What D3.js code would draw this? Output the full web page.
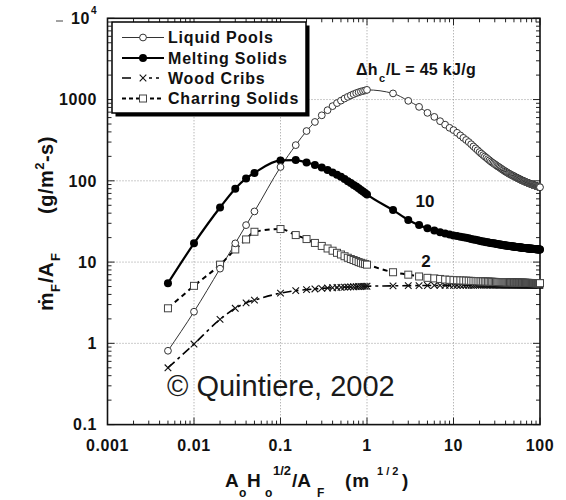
<!DOCTYPE html>
<html>
<head>
<meta charset="utf-8">
<script src="https://cdn.jsdelivr.net/npm/d3@7"></script>
<style>
  html, body { margin: 0; padding: 0; background: #fff; }
  svg { display: block; font-family: "Liberation Sans", Arial, Helvetica, sans-serif; }
</style>
</head>
<body>
<svg id="chart" width="566" height="500"></svg>
<script>
// ---------------- DATA ----------------
const xValues = [
  0.005, 0.01, 0.02, 0.03, 0.04, 0.05,
  0.1, 0.15, 0.2, 0.25, 0.3, 0.35, 0.4, 0.45, 0.5, 0.55, 0.6, 0.65, 0.7, 0.75, 0.8, 0.85, 0.9, 0.95, 1,
  2, 3, 4, 5, 6, 7, 8, 9, 10,
  11, 12, 13, 14, 15, 16, 17, 18, 19, 20,
  21, 22, 23, 24, 25, 26, 27, 28, 29, 30,
  31, 32, 33, 34, 35, 36, 37, 38, 39, 40,
  41, 42, 43, 44, 45, 46, 47, 48, 49, 50,
  51, 52, 53, 54, 55, 56, 57, 58, 59, 60,
  61, 62, 63, 64, 65, 66, 67, 68, 69, 70,
  71, 72, 73, 74, 75, 76, 77, 78, 79, 80,
  81, 82, 83, 84, 85, 86, 87, 88, 89, 90,
  91, 92, 93, 94, 95, 96, 97, 98, 99, 100
];

const liquidPools = [
  0.81, 2.45, 8.3, 17, 28.5, 42,
  148, 275, 410, 530, 640, 740, 830, 905, 970, 1030, 1080, 1125, 1165, 1200, 1230, 1255, 1275, 1295, 1315,
  1190, 964, 813, 686, 612, 542, 491, 449, 421,
  390, 362, 338, 318, 300, 282, 265, 251, 238, 226,
  216, 207, 199, 192, 185, 179, 173, 168, 164, 160,
  156, 152, 149, 146, 143, 140, 137, 135, 132, 130,
  128, 126, 124, 122, 121, 119, 118, 116, 115, 114,
  113, 111, 110, 109, 108, 107, 106, 105, 104, 103,
  102, 101, 100.5, 100, 99, 98.5, 97.5, 97, 96, 95.5,
  95, 94.5, 94, 93.5, 93, 92.5, 92, 91.5, 91, 90.5,
  90, 89.6, 89.2, 88.8, 88.4, 88, 87.6, 87.2, 86.8, 86.4,
  86, 85.7, 85.4, 85.1, 84.8, 84.5, 84.2, 83.9, 83.6, 83.3
];

const meltingSolids = [
  5.5, 17, 47, 80, 107, 125,
  178, 180, 168, 157, 146, 136, 127, 119, 112, 105, 99, 94, 89, 85, 81, 77, 74, 71, 68,
  43.6, 33, 28.5, 26, 24.5, 23.3, 22.5, 21.9, 21.3,
  20.9, 20.5, 20.2, 19.9, 19.6, 19.3, 19.0, 18.8, 18.5, 18.3,
  18.1, 17.9, 17.8, 17.6, 17.5, 17.3, 17.2, 17.1, 17.0, 16.9,
  16.8, 16.7, 16.6, 16.5, 16.4, 16.35, 16.25, 16.15, 16.1, 16.0,
  15.95, 15.9, 15.85, 15.8, 15.75, 15.7, 15.65, 15.6, 15.55, 15.5,
  15.46, 15.42, 15.38, 15.34, 15.3, 15.26, 15.22, 15.18, 15.14, 15.1,
  15.07, 15.04, 15.01, 14.98, 14.95, 14.92, 14.89, 14.86, 14.83, 14.8,
  14.78, 14.76, 14.74, 14.72, 14.7, 14.68, 14.66, 14.64, 14.62, 14.6,
  14.58, 14.56, 14.54, 14.52, 14.5, 14.48, 14.46, 14.44, 14.42, 14.4,
  14.39, 14.38, 14.37, 14.36, 14.35, 14.34, 14.33, 14.32, 14.31, 14.3
];

const woodCribs = [
  0.5, 0.98, 1.97, 2.7, 3.15, 3.4,
  4.15, 4.45, 4.58, 4.67, 4.74, 4.79, 4.83, 4.86, 4.89, 4.91, 4.93, 4.95, 4.97, 4.98, 5.0, 5.01, 5.02, 5.03, 5.04,
  5.1, 5.13, 5.14, 5.15, 5.16, 5.16, 5.17, 5.17, 5.18,
  5.18, 5.18, 5.19, 5.19, 5.19, 5.19, 5.19, 5.2, 5.2, 5.2,
  5.2, 5.2, 5.2, 5.2, 5.2, 5.21, 5.21, 5.21, 5.21, 5.21,
  5.21, 5.21, 5.21, 5.21, 5.21, 5.21, 5.21, 5.21, 5.21, 5.21,
  5.21, 5.21, 5.21, 5.21, 5.22, 5.22, 5.22, 5.22, 5.22, 5.22,
  5.22, 5.22, 5.22, 5.22, 5.22, 5.22, 5.22, 5.22, 5.22, 5.22,
  5.22, 5.22, 5.22, 5.22, 5.22, 5.22, 5.22, 5.22, 5.22, 5.22,
  5.22, 5.22, 5.22, 5.22, 5.22, 5.22, 5.22, 5.22, 5.22, 5.22,
  5.22, 5.22, 5.22, 5.22, 5.22, 5.22, 5.22, 5.22, 5.22, 5.22,
  5.22, 5.22, 5.22, 5.22, 5.22, 5.22, 5.22, 5.22, 5.22, 5.22
];

const charringSolids = [
  2.7, 5.1, 9.3, 14.3, 19, 23.6,
  25.5, 21.5, 19.2, 17.2, 15.8, 14.7, 13.8, 13.0, 12.4, 11.8, 11.3, 10.9, 10.6, 10.3, 10.0, 9.8, 9.6, 9.45, 9.3,
  7.5, 7.0, 6.65, 6.4, 6.3, 6.2, 6.1, 6.05, 6.0,
  5.97, 5.95, 5.93, 5.91, 5.89, 5.87, 5.85, 5.83, 5.82, 5.8,
  5.79, 5.78, 5.77, 5.76, 5.75, 5.74, 5.73, 5.72, 5.71, 5.7,
  5.69, 5.68, 5.68, 5.67, 5.66, 5.66, 5.65, 5.65, 5.64, 5.64,
  5.63, 5.63, 5.62, 5.62, 5.61, 5.61, 5.61, 5.6, 5.6, 5.6,
  5.59, 5.59, 5.59, 5.58, 5.58, 5.58, 5.57, 5.57, 5.57, 5.57,
  5.56, 5.56, 5.56, 5.56, 5.55, 5.55, 5.55, 5.55, 5.54, 5.54,
  5.54, 5.54, 5.54, 5.53, 5.53, 5.53, 5.53, 5.53, 5.52, 5.52,
  5.52, 5.52, 5.52, 5.52, 5.51, 5.51, 5.51, 5.51, 5.51, 5.51,
  5.5, 5.5, 5.5, 5.5, 5.5, 5.5, 5.5, 5.5, 5.5, 5.5
];

const seriesNames = ["Liquid Pools", "Melting Solids", "Wood Cribs", "Charring Solids"];
const xTickValues = [0.001, 0.01, 0.1, 1, 10, 100];
const xTickLabels = ["0.001", "0.01", "0.1", "1", "10", "100"];
const yTickValues = [0.1, 1, 10, 100, 1000];
const yTickLabels = ["0.1", "1", "10", "100", "1000"];
const curveLabels = ["10", "2"];

// ---------------- CHART ----------------
const svg = d3.select("#chart");
const L = 107.5, R = 540, T = 18.3, B = 424.6;
const x = d3.scaleLog().domain([0.001, 100]).range([L, R]);
const y = d3.scaleLog().domain([0.1, 10000]).range([B, T]);
const FONT = '"Liberation Sans", Arial, Helvetica, sans-serif';

// grid (decades inside)
const grid = svg.append("g");
[0.01, 0.1, 1, 10].forEach(v => {
  grid.append("line").attr("x1", x(v)).attr("x2", x(v)).attr("y1", T).attr("y2", B)
    .attr("stroke", "#999").attr("stroke-width", 1).attr("stroke-dasharray", "1,2");
});
[1, 10, 100, 1000].forEach(v => {
  grid.append("line").attr("x1", L).attr("x2", R).attr("y1", y(v)).attr("y2", y(v))
    .attr("stroke", "#999").attr("stroke-width", 1).attr("stroke-dasharray", "1,2");
});

// ticks on all four sides (inward)
const ticks = svg.append("g").attr("stroke", "#222").attr("stroke-width", 1);
const isMajor = v => Math.abs(Math.log10(v) - Math.round(Math.log10(v))) < 1e-6;
x.ticks().forEach(v => {
  const len = isMajor(v) ? 7 : 4;
  ticks.append("line").attr("x1", x(v)).attr("x2", x(v)).attr("y1", B).attr("y2", B - len);
  ticks.append("line").attr("x1", x(v)).attr("x2", x(v)).attr("y1", T).attr("y2", T + len);
});
y.ticks().forEach(v => {
  const len = isMajor(v) ? 7 : 4;
  ticks.append("line").attr("y1", y(v)).attr("y2", y(v)).attr("x1", L).attr("x2", L + len);
  ticks.append("line").attr("y1", y(v)).attr("y2", y(v)).attr("x1", R).attr("x2", R - len);
});

// frame
svg.append("rect").attr("x", L).attr("y", T).attr("width", R - L).attr("height", B - T)
  .attr("fill", "none").attr("stroke", "#111").attr("stroke-width", 1.6);

// tick labels
const tl = svg.append("g").attr("font-family", FONT).attr("font-weight", "bold")
  .attr("font-size", 16).attr("fill", "#111").attr("letter-spacing", 0.6);
xTickValues.forEach((v, i) => {
  tl.append("text").attr("x", x(v)).attr("y", 451).attr("text-anchor", "middle").text(xTickLabels[i]);
});
yTickValues.forEach((v, i) => {
  tl.append("text").attr("x", 97).attr("y", y(v)).attr("dy", "0.36em").attr("text-anchor", "end").text(yTickLabels[i]);
});
// 10^4
tl.append("text").attr("x", 90).attr("y", y(10000) + 6).attr("text-anchor", "end").text("10");
tl.append("text").attr("x", 91).attr("y", y(10000) - 4).attr("font-size", 10).text("4");

// axis titles
const ax = svg.append("text").attr("font-family", FONT).attr("font-weight", "bold").attr("fill", "#111").attr("font-size", 19);
ax.append("tspan").attr("x", 225).attr("y", 487).text("A");
ax.append("tspan").attr("x", 239).attr("y", 497).attr("font-size", 12).text("o");
ax.append("tspan").attr("x", 247).attr("y", 487).text("H");
ax.append("tspan").attr("x", 265).attr("y", 497).attr("font-size", 12).text("o");
ax.append("tspan").attr("x", 273).attr("y", 475).attr("font-size", 13).text("1/2");
ax.append("tspan").attr("x", 292).attr("y", 487).text("/A");
ax.append("tspan").attr("x", 317).attr("y", 497).attr("font-size", 12).text("F");
ax.append("tspan").attr("x", 345).attr("y", 487).attr("letter-spacing", 1).text("(m");
ax.append("tspan").attr("x", 377).attr("y", 475).attr("font-size", 11).attr("letter-spacing", 0).text("1 / 2");
ax.append("tspan").attr("x", 402).attr("y", 487).text(")");

const ay = svg.append("g").attr("transform", "rotate(-90)").attr("font-family", FONT)
  .attr("font-weight", "bold").attr("fill", "#111");
const ay1 = ay.append("text").attr("font-size", 21);
ay1.append("tspan").attr("x", -311).attr("y", 53).text("ṁ");
ay1.append("tspan").attr("x", -292).attr("y", 60).attr("font-size", 13).text("F");
ay1.append("tspan").attr("x", -283).attr("y", 53).text("/A");
ay1.append("tspan").attr("x", -261).attr("y", 60).attr("font-size", 13).text("F");
const ay2 = ay.append("text").attr("font-size", 20).attr("letter-spacing", 0.5);
ay2.append("tspan").attr("x", -214).attr("y", 53).text("(g/m");
ay2.append("tspan").attr("y", 44).attr("font-size", 13).text("2");
ay2.append("tspan").attr("y", 53).text("-s)");

// copyright
svg.append("text").attr("x", 167).attr("y", 396).attr("font-family", FONT)
  .attr("font-size", 29).attr("fill", "#1a1a1a").text("© Quintiere, 2002");

// series
const pts = arr => xValues.map((xv, i) => [xv, arr[i]]);
const line = d3.line().x(d => x(d[0])).y(d => y(d[1])).curve(d3.curveMonotoneX);
const lines = svg.append("g").attr("fill", "none");
lines.append("path").attr("d", line(pts(liquidPools))).attr("stroke", "#333").attr("stroke-width", 1);
lines.append("path").attr("d", line(pts(meltingSolids))).attr("stroke", "#000").attr("stroke-width", 2.2);
lines.append("path").attr("d", line(pts(woodCribs))).attr("stroke", "#000").attr("stroke-width", 1.6)
  .attr("stroke-dasharray", "9,4,3,4");
lines.append("path").attr("d", line(pts(charringSolids))).attr("stroke", "#000").attr("stroke-width", 2)
  .attr("stroke-dasharray", "5,4");

function crossPath(cx, cy, s) {
  return `M${cx - s},${cy - s}L${cx + s},${cy + s}M${cx - s},${cy + s}L${cx + s},${cy - s}`;
}

const mk = svg.append("g");
// wood cribs x markers
mk.append("g").selectAll("path").data(pts(woodCribs)).join("path")
  .attr("d", d => crossPath(x(d[0]), y(d[1]), 3.3))
  .attr("stroke", "#111").attr("stroke-width", 1.1).attr("fill", "none");
// charring squares
mk.append("g").selectAll("rect").data(pts(charringSolids)).join("rect")
  .attr("x", d => x(d[0]) - 3.5).attr("y", d => y(d[1]) - 3.5).attr("width", 7).attr("height", 7)
  .attr("fill", "#fff").attr("stroke", "#444").attr("stroke-width", 1);
// melting solids
mk.append("g").selectAll("circle").data(pts(meltingSolids)).join("circle")
  .attr("cx", d => x(d[0])).attr("cy", d => y(d[1])).attr("r", 4).attr("fill", "#000");
// liquid pools
mk.append("g").selectAll("circle").data(pts(liquidPools)).join("circle")
  .attr("cx", d => x(d[0])).attr("cy", d => y(d[1])).attr("r", 3.4)
  .attr("fill", "#fff").attr("stroke", "#333").attr("stroke-width", 1);

// annotations
const ann = svg.append("g").attr("font-family", FONT).attr("font-weight", "bold").attr("fill", "#111");
const a1 = ann.append("text").attr("font-size", 16).attr("letter-spacing", 0.3);
a1.append("tspan").attr("x", 356).attr("y", 75).text("Δh");
a1.append("tspan").attr("x", 379).attr("y", 82).attr("font-size", 11).text("c");
a1.append("tspan").attr("x", 386).attr("y", 75).text("/L = 45 kJ/g");
ann.append("text").attr("x", 425).attr("y", 207).attr("text-anchor", "middle").attr("font-size", 17).text(curveLabels[0]);
ann.append("text").attr("x", 426).attr("y", 267).attr("text-anchor", "middle").attr("font-size", 17).text(curveLabels[1]);

// legend
const lg = svg.append("g");
const LX = 112, LY = 22, LW = 194, LH = 91;
lg.append("rect").attr("x", LX + 3.5).attr("y", LY + 3.5).attr("width", LW).attr("height", LH).attr("fill", "#000");
lg.append("rect").attr("x", LX).attr("y", LY).attr("width", LW).attr("height", LH)
  .attr("fill", "#fff").attr("stroke", "#000").attr("stroke-width", 1.5);
const rowsY = [37.5, 58, 78, 98.5];
const sx1 = 122, sx2 = 164, smx = 143;
// liquid
lg.append("line").attr("x1", sx1).attr("x2", sx2).attr("y1", rowsY[0]).attr("y2", rowsY[0]).attr("stroke", "#333").attr("stroke-width", 1);
lg.append("circle").attr("cx", smx).attr("cy", rowsY[0]).attr("r", 3.4).attr("fill", "#fff").attr("stroke", "#333");
// melting
lg.append("line").attr("x1", sx1).attr("x2", sx2).attr("y1", rowsY[1]).attr("y2", rowsY[1]).attr("stroke", "#000").attr("stroke-width", 2.2);
lg.append("circle").attr("cx", smx).attr("cy", rowsY[1]).attr("r", 4).attr("fill", "#000");
// wood
lg.append("line").attr("x1", sx1).attr("x2", sx2).attr("y1", rowsY[2]).attr("y2", rowsY[2]).attr("stroke", "#000")
  .attr("stroke-width", 1.6).attr("stroke-dasharray", "9,11,0,7,3,4,3");
lg.append("path").attr("d", crossPath(smx, rowsY[2], 3.3)).attr("stroke", "#111").attr("stroke-width", 1.1);
// charring
lg.append("line").attr("x1", sx1).attr("x2", sx2).attr("y1", rowsY[3]).attr("y2", rowsY[3]).attr("stroke", "#000")
  .attr("stroke-width", 2).attr("stroke-dasharray", "4,3");
lg.append("rect").attr("x", smx - 3.5).attr("y", rowsY[3] - 3.5).attr("width", 7).attr("height", 7)
  .attr("fill", "#fff").attr("stroke", "#444");
const lt = lg.append("g").attr("font-family", FONT).attr("font-weight", "bold").attr("font-size", 16)
  .attr("letter-spacing", 0.8).attr("fill", "#111");
seriesNames.forEach((n, i) => {
  lt.append("text").attr("x", 168).attr("y", rowsY[i]).attr("dy", "0.36em").text(n);
});

// small stray mark at top-left of the original scan
svg.append("line").attr("x1", 56).attr("x2", 63).attr("y1", 21).attr("y2", 21).attr("stroke", "#444").attr("stroke-width", 1);
</script>
</body>
</html>
